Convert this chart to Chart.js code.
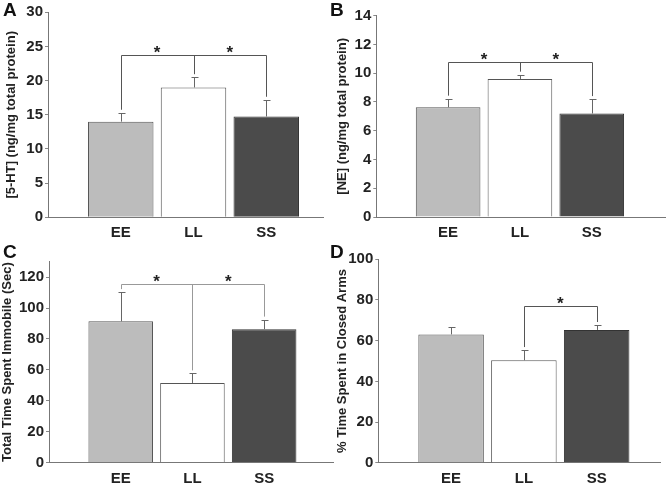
<!DOCTYPE html>
<html lang="en">
<head>
    <meta charset="UTF-8">
    <title>Monoamines and behaviour by housing group</title>
    <script src="https://cdn.jsdelivr.net/npm/chart.js"></script>
    <style>
        body { margin: 0; background: #fff; }
        .wrap { position: relative; width: 670px; height: 485px; overflow: hidden; }
        .panel { position: absolute; }
        .letter { position: absolute; font: bold 19px "Liberation Sans", Arial, sans-serif; line-height: 1; color: #111; }
    </style>
</head>
<body>
<div class="wrap">
    <div class="panel" style="left:0;top:0;width:335px;height:242px"><canvas id="chartA"></canvas></div>
    <div class="panel" style="left:335px;top:0;width:335px;height:242px"><canvas id="chartB"></canvas></div>
    <div class="panel" style="left:0;top:242px;width:335px;height:243px"><canvas id="chartC"></canvas></div>
    <div class="panel" style="left:335px;top:242px;width:335px;height:243px"><canvas id="chartD"></canvas></div>
    <div class="letter" style="left:3px;top:0px">A</div>
    <div class="letter" style="left:330px;top:0px">B</div>
    <div class="letter" style="left:3px;top:242px">C</div>
    <div class="letter" style="left:330px;top:242px">D</div>
</div>

<script>
    // groups
    const groups = ['EE', 'LL', 'SS'];

    // A - serotonin
    const serotonin = [14.0, 19.0, 14.75];
    const serotoninErr = [1.3, 1.5, 2.45];
    // B - norepinephrine
    const norepi = [7.63, 9.6, 7.2];
    const norepiErr = [0.6, 0.3, 1.0];
    // C - forced swim immobility
    const immobile = [91.4, 51.5, 86.3];
    const immobileErr = [18.9, 6.2, 6.2];
    // D - elevated plus maze
    const closedArms = [63.1, 50.4, 65.3];
    const closedArmsErr = [3.5, 5.0, 2.4];

    // y tick labels per panel
    const ticksA = [0, 5, 10, 15, 20, 25, 30];
    const ticksB = [0, 2, 4, 6, 8, 10, 12, 14];
    const ticksC = [0, 20, 40, 60, 80, 100, 120];
    const ticksD = [0, 20, 40, 60, 80, 100];

    // significance brackets: height, legs (group index), stars (between groups)
    const bracketA = { level: 23.7, legs: [0, 1, 2], stars: [0.5, 1.5] };
    const bracketB = { level: 10.77, legs: [0, 1, 2], stars: [0.5, 1.5] };
    const bracketC = { level: 115.6, legs: [0, 1, 2], stars: [0.5, 1.5] };
    const bracketD = { level: 76.9, legs: [1, 2], stars: [1.5] };

    const fills = ['#bcbcbc', '#ffffff', '#4b4b4b'];
    const edges = ['#555555', '#555555', '#333333'];
    const FONT = '"Liberation Sans", Arial, sans-serif';

    // error bars + brackets
    const extras = {
        id: 'extras',
        afterDatasetsDraw(chart, args, opts) {
            const ctx = chart.ctx;
            const x = chart.scales.x, y = chart.scales.y;
            const vals = opts.values, errs = opts.errors;
            ctx.save();
            ctx.lineWidth = 1;
            ctx.strokeStyle = '#666';
            vals.forEach((v, i) => {
                const px = Math.round(x.getPixelForValue(i + 1)) + 0.5;
                const top = y.getPixelForValue(v);
                const cap = Math.round(y.getPixelForValue(v + errs[i])) + 0.5;
                ctx.beginPath();
                ctx.moveTo(px, top);
                ctx.lineTo(px, cap);
                ctx.moveTo(px - 3, cap);
                ctx.lineTo(px + 4, cap);
                ctx.stroke();
            });
            const b = opts.bracket;
            const by = Math.round(y.getPixelForValue(b.level)) + 0.5;
            const xs = b.legs.map(i => Math.round(x.getPixelForValue(i + 1)) + 0.5);
            ctx.strokeStyle = opts.bracketColor;
            ctx.beginPath();
            ctx.moveTo(xs[0], by);
            ctx.lineTo(xs[xs.length - 1], by);
            b.legs.forEach((i, k) => {
                ctx.moveTo(xs[k], by);
                ctx.lineTo(xs[k], y.getPixelForValue(vals[i] + errs[i]) - 3);
            });
            ctx.stroke();
            ctx.fillStyle = '#222';
            ctx.font = 'bold 17px ' + FONT;
            ctx.textAlign = 'center';
            ctx.textBaseline = 'alphabetic';
            b.stars.forEach(s => ctx.fillText('*', x.getPixelForValue(s + 1), by + 2));
            ctx.restore();
        }
    };

    function makeChart(id, cfg) {
        const ctx = document.getElementById(id).getContext('2d');
        return new Chart(ctx, {
            type: 'bar',
            data: {
                datasets: [{
                    data: cfg.values.map((v, i) => ({ x: i + 1, y: v })),
                    backgroundColor: fills,
                    borderColor: edges,
                    borderWidth: 1,
                    barPercentage: 0.9,
                    categoryPercentage: 1
                }]
            },
            options: {
                responsive: true,
                maintainAspectRatio: false,
                animation: false,
                layout: { padding: { left: 0, right: cfg.padRight, top: cfg.padTop, bottom: 0 } },
                plugins: {
                    legend: { display: false },
                    tooltip: { enabled: false },
                    extras: { values: cfg.values, errors: cfg.errors, bracket: cfg.bracket, bracketColor: cfg.bracketColor }
                },
                scales: {
                    x: {
                        type: 'linear',
                        offset: false,
                        min: 0,
                        max: cfg.xMax,
                        afterBuildTicks: s => { s.ticks = [1, 2, 3].map(v => ({ value: v })); },
                        afterFit: s => { s.height = cfg.xHeight; },
                        grid: { display: false, drawTicks: false },
                        border: { display: true, color: '#777' },
                        ticks: {
                            padding: 7,
                            color: '#222',
                            font: { family: FONT, size: 15, weight: 'bold' },
                            callback: v => groups[v - 1]
                        }
                    },
                    y: {
                        min: 0,
                        max: cfg.yMax,
                        afterBuildTicks: s => { s.ticks = cfg.ticks.map(v => ({ value: v })); },
                        afterFit: s => { s.width = cfg.yWidth; },
                        grid: { drawOnChartArea: false, drawTicks: true, tickLength: 3, color: '#888' },
                        border: { display: true, color: '#777' },
                        ticks: {
                            padding: 2,
                            color: '#222',
                            font: { family: FONT, size: 15, weight: 'bold' }
                        },
                        title: {
                            display: true,
                            text: cfg.title,
                            color: '#222',
                            padding: { top: cfg.titlePad, bottom: 0 },
                            font: { family: FONT, size: 13, weight: 'bold' }
                        }
                    }
                }
            },
            plugins: [extras]
        });
    }

    makeChart('chartA', {
        values: serotonin, errors: serotoninErr, bracket: bracketA, bracketColor: '#555',
        title: '[5-HT] (ng/mg total protein)', yMax: 30, ticks: ticksA,
        yWidth: 48, xMax: 3.78, xHeight: 24.7, padRight: 12, padTop: 12.3, titlePad: 4
    });
    makeChart('chartB', {
        values: norepi, errors: norepiErr, bracket: bracketB, bracketColor: '#555',
        title: '[NE] (ng/mg total protein)', yMax: 14, ticks: ticksB,
        yWidth: 41.3, xMax: 4.02, xHeight: 25, padRight: 5, padTop: 15.7, titlePad: 0
    });
    makeChart('chartC', {
        values: immobile, errors: immobileErr, bracket: bracketC, bracketColor: '#999',
        title: 'Total Time Spent Immobile (Sec)', yMax: 130, ticks: ticksC,
        yWidth: 49, xMax: 3.96, xHeight: 22.5, padRight: 2, padTop: 19.7, titlePad: 0
    });
    makeChart('chartD', {
        values: closedArms, errors: closedArmsErr, bracket: bracketD, bracketColor: '#555',
        title: '% Time Spent in Closed Arms', yMax: 100, ticks: ticksD,
        yWidth: 43.3, xMax: 3.87, xHeight: 22.2, padRight: 10, padTop: 17.3, titlePad: 0
    });
</script>
</body>
</html>
